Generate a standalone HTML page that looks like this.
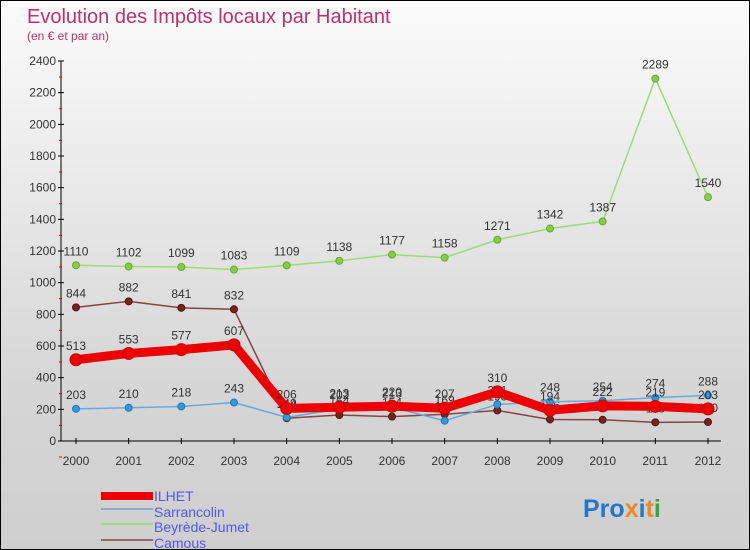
<!DOCTYPE html>
<html><head><meta charset="utf-8"><style>
body{margin:0}
#c{width:748px;height:548px;border:1px solid #000;background:linear-gradient(#fbfbfb,#d6d6d6 70%,#cfcfcf);position:relative;overflow:hidden;font-family:"Liberation Sans",sans-serif}
</style></head><body>
<div id="c">
<svg id="s" width="748" height="548" style="position:absolute;left:0;top:0">
<text x="26" y="22" font-size="20" fill="#c0306a">Evolution des Impôts locaux par Habitant</text>
<text x="26" y="39" font-size="12" fill="#c0306a">(en € et par an)</text>
<g id="axes"></g><g id="series"></g>
<g>
<rect x="100" y="491" width="52" height="8" fill="#ee0000"/>
<text x="153" y="500" font-size="14" fill="#5555ee">ILHET</text>
<rect x="100" y="507" width="52" height="2" fill="#88aacc"/>
<text x="153" y="516" font-size="14" fill="#5555ee">Sarrancolin</text>
<rect x="100" y="522" width="52" height="2" fill="#99dd77"/>
<text x="153" y="531" font-size="14" fill="#5555ee">Beyrède-Jumet</text>
<rect x="100" y="538" width="52" height="2" fill="#996666"/>
<text x="153" y="547" font-size="14" fill="#5555ee">Camous</text>
</g>
<text x="582" y="516" font-size="25" font-weight="bold"><tspan fill="#2277cc">Pro</tspan><tspan fill="#ee8822">x</tspan><tspan fill="#2277cc">i</tspan><tspan fill="#ee8822">t</tspan><tspan fill="#33aa33">i</tspan></text>
</svg>
</div>
<script>
const years=["2000","2001","2002","2003","2004","2005","2006","2007","2008","2009","2010","2011","2012"];
const yTicks=[0,200,400,600,800,1000,1200,1400,1600,1800,2000,2200,2400];
const ilhet=[513,553,577,607,206,213,220,207,310,194,222,219,203];
const sarrancolin=[203,210,218,243,149,202,213,128,231,248,254,274,288];
const beyrede=[1110,1102,1099,1083,1109,1138,1177,1158,1271,1342,1387,2289,1540];
const camous=[844,882,841,832,144,164,154,169,193,136,134,118,120];
const NS="http://www.w3.org/2000/svg";
const X=i=>75+i*(707-75)/(years.length-1);
const Y=v=>440-v*380/2400;
function mk(t,a,p){const e=document.createElementNS(NS,t);for(const k in a)e.setAttribute(k,a[k]);p.appendChild(e);return e;}
const ax=document.getElementById('axes');
let l=mk('line',{x1:60,y1:60,x2:60,y2:440,stroke:'#000'},ax);


l=mk('line',{x1:60,y1:440,x2:720,y2:440,stroke:'#000'},ax);


yTicks.forEach(v=>{const y=Y(v);
 mk('line',{x1:57,y1:y,x2:63,y2:y,stroke:'#000'},ax);
 mk('line',{x1:58,y1:y+16,x2:61,y2:y+16,stroke:'#e00'},ax);
 const t=mk('text',{x:55,y:y+4,'font-size':12,fill:'#333','text-anchor':'end'},ax);t.textContent=v;
 
 });
years.forEach((yr,i)=>{const x=X(i);
 mk('line',{x1:x,y1:437,x2:x,y2:443,stroke:'#000'},ax);
 const t=mk('text',{x:x,y:464,'font-size':12,fill:'#333','text-anchor':'middle'},ax);t.textContent=yr;
 
 });
const sg=document.getElementById('series');
function draw(data,name,col,w,pt,ptcol,r){
 const g=mk('g',{},sg);
 
 
 mk('polyline',{points:data.map((v,i)=>X(i)+','+Y(v)).join(' '),fill:'none',stroke:col,'stroke-width':w,'stroke-linejoin':'round'},g);
 data.forEach((v,i)=>{const c=mk('circle',{cx:X(i),cy:Y(v),r:r,fill:pt,stroke:ptcol,'stroke-width':1},g);
  
  
  const t=mk('text',{x:X(i),y:Y(v)-10,'font-size':12,fill:'#333','text-anchor':'middle'},g);t.textContent=v;
  
  });
}
draw(beyrede,'beyrede','#99dd77',1.5,'#88cc44','#66aa33',3.5);
draw(camous,'camous','#884444',1.5,'#772222','#551111',3.5);
draw(sarrancolin,'sarrancolin','#66aadd',1.5,'#3399dd','#2277bb',3.5);
draw(ilhet,'ilhet','#ee0000',9,'#ee0000','#cc0000',6);
</script>
</body></html>
